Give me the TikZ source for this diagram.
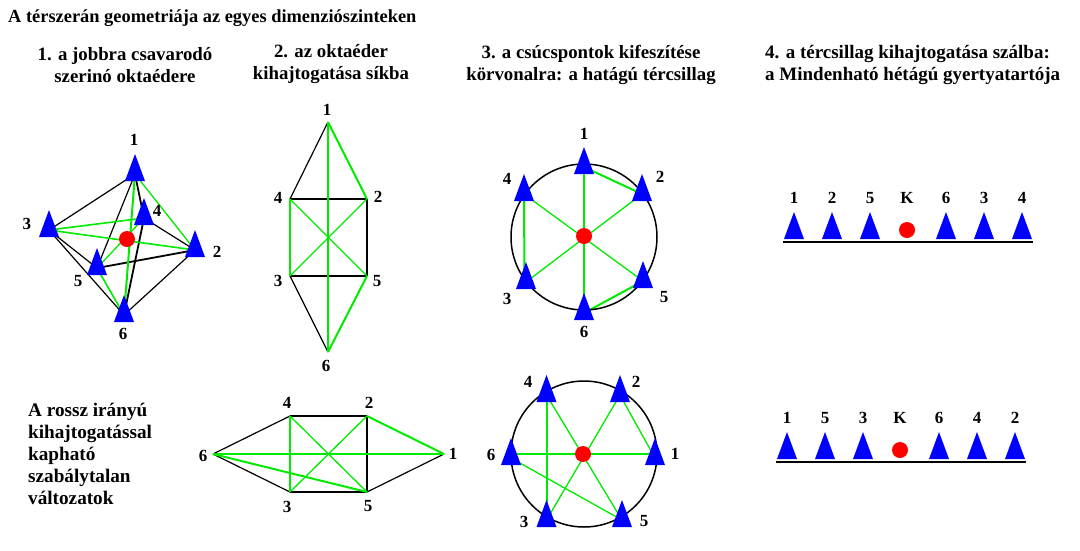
\documentclass[tikz,border=0pt]{standalone}
\usepackage{fontspec}
\setmainfont{Liberation Serif}
\usetikzlibrary{shapes.geometric,backgrounds}
\definecolor{tblue}{RGB}{0,0,255}
\definecolor{tred}{RGB}{255,0,0}
\definecolor{tgreen}{RGB}{0,235,0}
\tikzset{
  x=1pt,y=-1pt,
  tri/.style={draw=none,fill=tblue,isosceles triangle,isosceles triangle stretches,shape border rotate=90,minimum width=20pt,minimum height=27pt,inner sep=0pt,outer sep=0pt,anchor=apex},
  dot/.style={circle,fill=tred,draw=none,minimum size=16pt,inner sep=0pt,outer sep=0pt},
  pt/.style={circle,fill=none,draw=none,minimum size=0pt,inner sep=0pt,outer sep=0pt},
  lab/.style={font=\fontsize{17}{17}\selectfont\bfseries,inner sep=0pt},
  head/.style={font=\fontsize{18.8}{22}\selectfont\bfseries,inner sep=0pt,align=center},
  bk/.style={draw=black,line width=1.2pt},
  bkk/.style={draw=black,line width=1.8pt},
  gn/.style={draw=tgreen,line width=1.3pt},
  gnm/.style={draw=tgreen,line width=1.6pt},
  gnn/.style={draw=tgreen,line width=2pt},
  axisline/.style={draw=black,line width=1.8pt},
  ringline/.style={draw=black,line width=1.5pt,fill=none,circle,inner sep=0pt,minimum size=146pt}
}
\begin{document}
\begin{tikzpicture}
\useasboundingbox (0,0) rectangle (1080,550);
% headings
\node[head,anchor=west,font=\fontsize{18.4}{22}\selectfont\bfseries] (title) at (8,18.5) {A térszerán geometriája az egyes dimenziószinteken};
\node[head] (h1) at (125,65.5) {1. a jobbra csavarodó\\szerinó oktaédere};
\node[head] (h2) at (331,64.5) {2. az oktaéder\\kihajtogatása síkba};
\node[head] (h3) at (591,64.5) {3. a csúcspontok kifeszítése\\körvonalra: a hatágú tércsillag};
\node[head,align=left,anchor=west,font=\fontsize{19}{22}\selectfont\bfseries] (h4) at (765,64.5) {4. a tércsillag kihajtogatása szálba:\\a Mindenható hétágú gyertyatartója};
\node[head,align=left,anchor=north west,font=\fontsize{19.2}{22}\selectfont\bfseries] (h5) at (28,402.5) {A rossz irányú\\kihajtogatással\\kapható\\szabálytalan\\változatok};

% diagram 1: octahedron
\node[tri] (a1) at (135,154) {};
\node[tri] (a2) at (195,230) {};
\node[tri] (a3) at (49,210) {};
\node[tri] (a4) at (144,198) {};
\node[tri] (a5) at (97,248) {};
\node[tri] (a6) at (124,295) {};
\node[dot] (aK) at (127,239) {};
\node[lab] (la1) at (134,140) {1};
\node[lab] (la2) at (217,252) {2};
\node[lab] (la3) at (27,224) {3};
\node[lab] (la4) at (157,211) {4};
\node[lab] (la5) at (78,281) {5};
\node[lab] (la6) at (123,334) {6};
\begin{scope}[on background layer]
\fill[white] (0,0) rectangle (1080,550);
\draw[bk] (a1.center)--(a3.center);
\draw[bk] (a1.center)--(a5.center);
\draw[bkk] (a1.center)--(a4.center);
\draw[bkk] (a4.center)--(a6.center);
\draw[bk] (a4.center)--(a2.center);
\draw[bk] (a3.center)--(a5.center);
\draw[bk] (a3.center)--(a6.center);
\draw[bkk] (a5.center)--(a2.center);
\draw[bk] (a6.center)--(a2.center);
\draw[gn] (a1.center)--(a2.center);
\draw[gnn] (a1.center)--(a6.center);
\draw[gnm] (a3.center)--(a4.center);
\draw[gnm] (a3.center)--(a2.center);
\draw[gn] (a4.center)--(a5.center);
\draw[gnm] (a5.center)--(a6.center);
\end{scope}

% diagram 2: unfolded
\node[pt] (b1) at (328,122) {};
\node[pt] (b2) at (367,199) {};
\node[pt] (b3) at (290,276) {};
\node[pt] (b4) at (290,199) {};
\node[pt] (b5) at (367,276) {};
\node[pt] (b6) at (328,352) {};
\node[lab] (lb1) at (327,110) {1};
\node[lab] (lb2) at (378,197) {2};
\node[lab] (lb3) at (278,281) {3};
\node[lab] (lb4) at (278,198) {4};
\node[lab] (lb5) at (377,281) {5};
\node[lab] (lb6) at (326,366) {6};
\draw[bk] (b1)--(b4);
\draw[bkk] (b4)--(b2);
\draw[bkk] (b2)--(b5);
\draw[bkk] (b3)--(b5);
\draw[bk] (b3)--(b6);
\draw[gnn] (b1)--(b2);
\draw[gnn] (b1)--(b6);
\draw[gnn] (b4)--(b3);
\draw[gn] (b4)--(b5);
\draw[gn] (b3)--(b2);
\draw[gnn] (b5)--(b6);

% diagram 3: star
\node[ringline] (cR) at (584,237) {};
\node[tri] (c1) at (584,147) {};
\node[tri] (c2) at (642,174) {};
\node[tri] (c3) at (526,262) {};
\node[tri] (c4) at (524,174) {};
\node[tri] (c5) at (643,261) {};
\node[tri] (c6) at (584,293) {};
\node[dot] (cK) at (584,236) {};
\node[lab] (lc1) at (584,134) {1};
\node[lab] (lc2) at (660,177) {2};
\node[lab] (lc3) at (507,299) {3};
\node[lab] (lc4) at (507,179) {4};
\node[lab] (lc5) at (664,297) {5};
\node[lab] (lc6) at (584,332) {6};
\begin{scope}[on background layer]
\draw[gnn] (c1.center)--(c6.center);
\draw[gnn] (c1.center)--(c2.center);
\draw[gnn] (c4.center)--([xshift=-1.5pt]c3.center);
\draw[gnn] (c5.center)--(c6.center);
\draw[gn] (c2.center)--(c3.center);
\draw[gn] (c4.center)--(c5.center);
\end{scope}

% diagram 4: bad unfolding
\node[pt] (d1) at (444,454) {};
\node[pt] (d2) at (367,416) {};
\node[pt] (d3) at (290,492) {};
\node[pt] (d4) at (290,416) {};
\node[pt] (d5) at (367,492) {};
\node[pt] (d6) at (213,454) {};
\node[lab] (ld1) at (453,454) {1};
\node[lab] (ld2) at (369,403) {2};
\node[lab] (ld3) at (287,507) {3};
\node[lab] (ld4) at (287,403) {4};
\node[lab] (ld5) at (368,506) {5};
\node[lab] (ld6) at (203,456) {6};
\draw[bk] (d6)--(d4);
\draw[bkk] (d4)--(d2);
\draw[bkk] (d2)--(d5);
\draw[bk] (d6)--(d3);
\draw[bkk] (d3)--(d5);
\draw[bk] (d5)--(d1);
\draw[gnn] (d2)--(d1);
\draw[gnn] (d6)--(d1);
\draw[gnn] (d6)--(d5);
\draw[gnn] (d4)--(d3);
\draw[gn] (d4)--(d5);
\draw[gn] (d3)--(d2);

% diagram 5: star, bad
\node[ringline] (eR) at (584,454) {};
\node[tri] (e1) at (655,438) {};
\node[tri] (e2) at (620,375) {};
\node[tri] (e3) at (546.5,500) {};
\node[tri] (e4) at (546.5,375) {};
\node[tri] (e5) at (622,500) {};
\node[tri] (e6) at (511,438) {};
\node[dot] (eK) at (583,454) {};
\node[lab] (le1) at (675,454) {1};
\node[lab] (le2) at (636,382) {2};
\node[lab] (le3) at (524,522) {3};
\node[lab] (le4) at (528,382) {4};
\node[lab] (le5) at (644,521) {5};
\node[lab] (le6) at (491,455) {6};
\begin{scope}[on background layer]
\draw[gnn] (e4.center)--(e3.center);
\draw[gnn] (e6.apex |- eK.center)--(e1.apex |- eK.center);
\draw[gn] (e4.center)--(e5.center);
\draw[gn] (e2.center)--(e3.center);
\draw[gn] (e2.center)--(e1.center);
\draw[gn] (e6.center)--(e5.center);
\end{scope}

% candlestick top
\coordinate (fL) at (783,242);
\coordinate (fR) at (1033,242);
\draw[axisline] (fL)--(fR);
\node[tri] (f1) at (794,212) {};
\node[tri] (f2) at (832,212) {};
\node[tri] (f5) at (870,212) {};
\node[dot] (fK) at (907,230) {};
\node[tri] (f6) at (946,212) {};
\node[tri] (f3) at (984,212) {};
\node[tri] (f4) at (1022,212) {};
\node[lab] (lf1) at (794,198) {1};
\node[lab] (lf2) at (832,198) {2};
\node[lab] (lf5) at (870,198) {5};
\node[lab] (lfK) at (907,198) {K};
\node[lab] (lf6) at (946,198) {6};
\node[lab] (lf3) at (984,198) {3};
\node[lab] (lf4) at (1022,198) {4};

% candlestick bottom
\coordinate (gL) at (776,462);
\coordinate (gR) at (1026,462);
\draw[axisline] (gL)--(gR);
\node[tri] (g1) at (787,432) {};
\node[tri] (g5) at (825,432) {};
\node[tri] (g3) at (863,432) {};
\node[dot] (gK) at (900,450) {};
\node[tri] (g6) at (939,432) {};
\node[tri] (g4) at (977,432) {};
\node[tri] (g2) at (1015,432) {};
\node[lab] (lg1) at (787,418) {1};
\node[lab] (lg5) at (825,418) {5};
\node[lab] (lg3) at (863,418) {3};
\node[lab] (lgK) at (900,418) {K};
\node[lab] (lg6) at (939,418) {6};
\node[lab] (lg4) at (977,418) {4};
\node[lab] (lg2) at (1015,418) {2};
\end{tikzpicture}
\end{document}
